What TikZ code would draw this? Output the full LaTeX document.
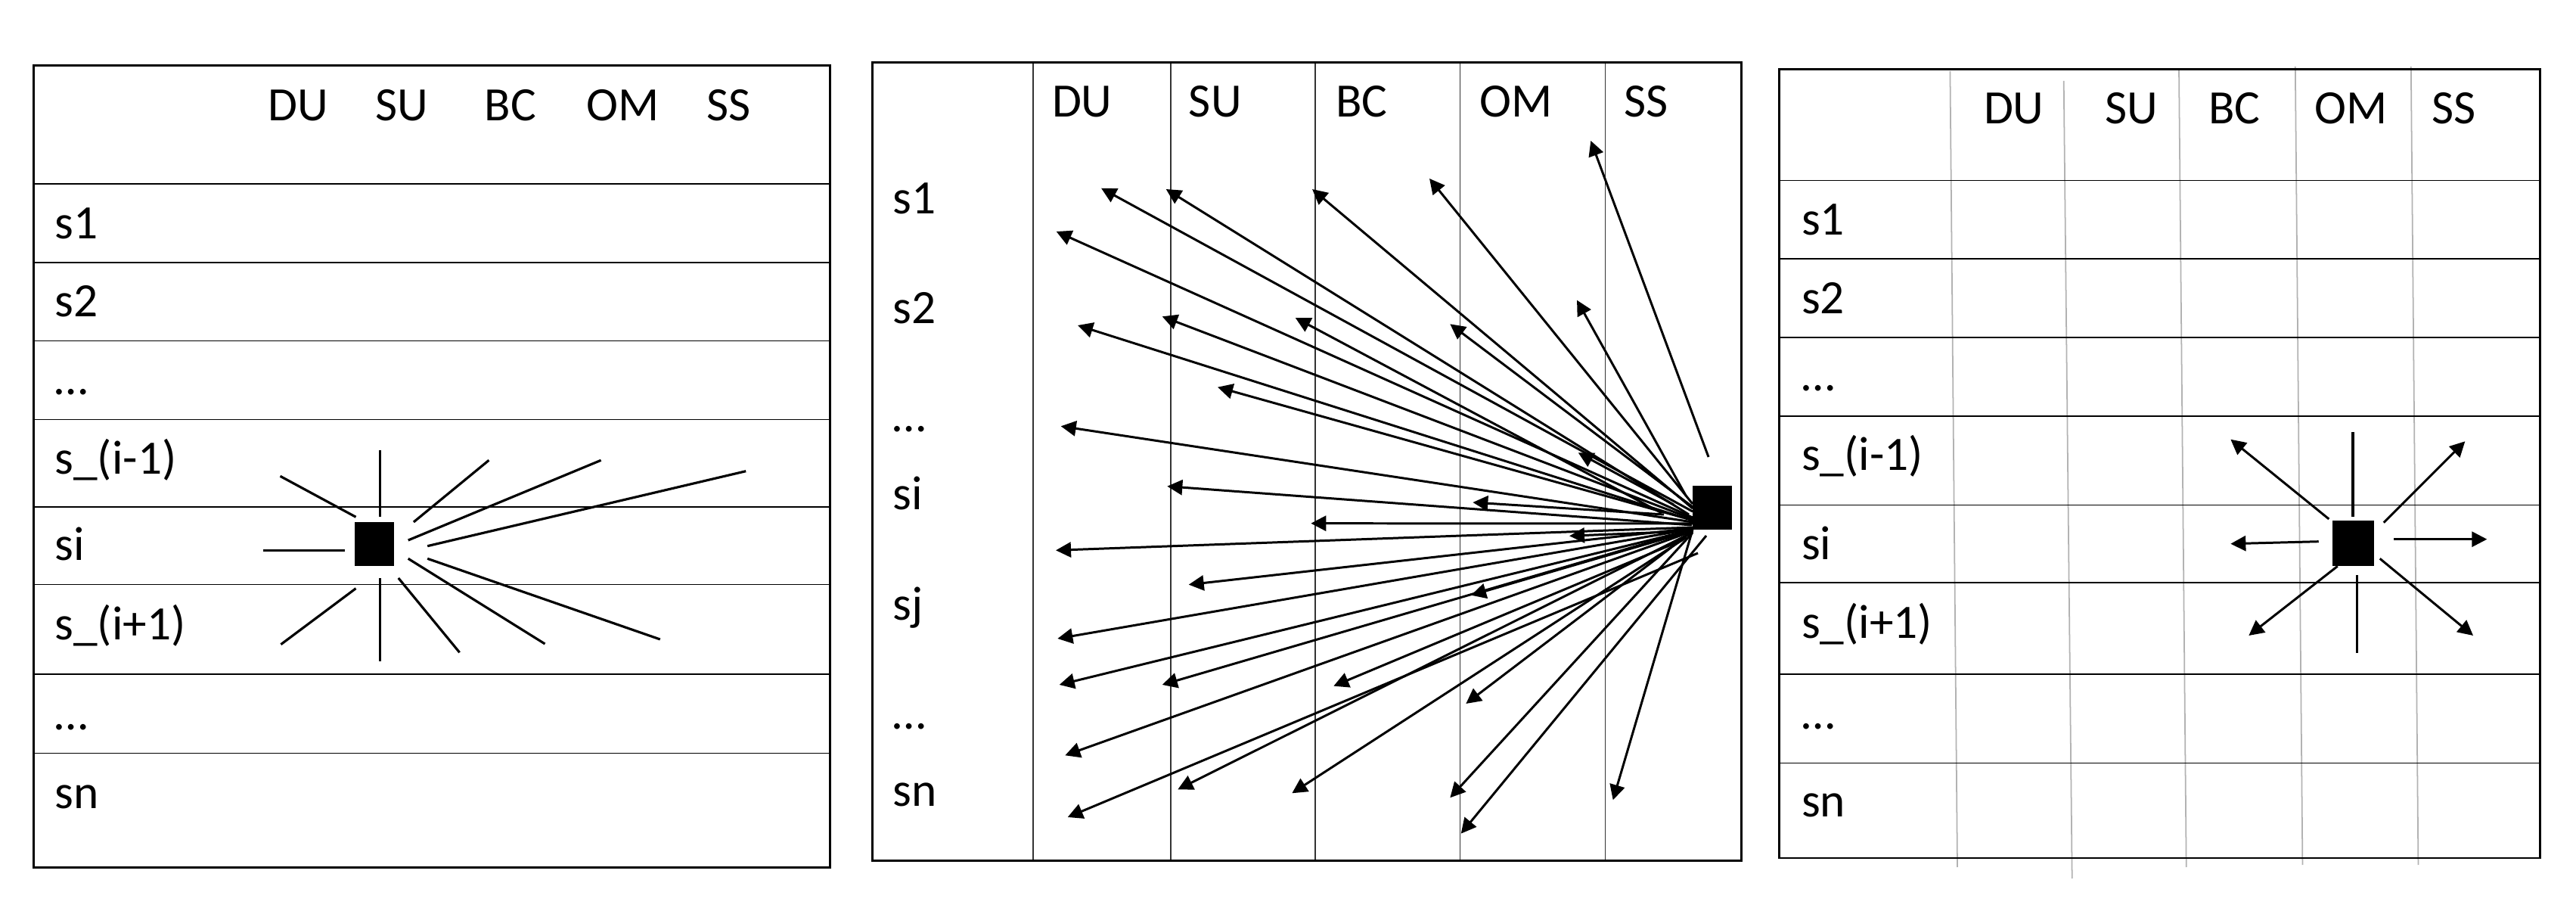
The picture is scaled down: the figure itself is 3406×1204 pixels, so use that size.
\documentclass[tikz,border=0pt]{standalone}
\usepackage{fontspec}
\setmainfont{Carlito}
\usetikzlibrary{arrows.meta}
\begin{document}
\begin{tikzpicture}[x=0.01cm,y=-0.01cm,
  lab/.style={font=\fontsize{18}{20}\selectfont, inner sep=0pt},
  border/.style={line width=0.85pt},
  grid/.style={line width=0.5pt},
  vgrid/.style={line width=0.45pt, black!80},
  lgrid/.style={line width=0.5pt, black!30},
  spoke/.style={line width=0.9pt},
  arr/.style={line width=0.85pt, -{Triangle[length=0.2cm,width=0.2cm]}},
  sq/.style={fill=black, inner sep=0pt, draw=none}]
\useasboundingbox (0,0) rectangle (3406,1204);

% ---------------- Panel 1 ----------------
\foreach \y in {242.9,347,450.4,554.6,669.7,772.4,891.2,995.4}
  \draw[grid] (44.7,\y) -- (1097,\y);
\draw[border] (44.7,86.7) rectangle (1097,1146.4);
\foreach \t/\x in {DU/394,SU/531,BC/675,OM/824,SS/964}
  \node[lab,anchor=base] (pa-\t) at (\x,160) {\t};
\node[lab,anchor=base west] (pa-r1) at (72,315.5) {s1};
\node[lab,anchor=base west] (pa-r2) at (72,419) {s2};
\node[lab,anchor=base west] (pa-r3) at (72,521.6) {…};
\node[lab,anchor=base west] (pa-r4) at (72,627) {s\_(i-1)};
\node[lab,anchor=base west] (pa-r5) at (72,741) {si};
\node[lab,anchor=base west] (pa-r6) at (72,845.7) {s\_(i+1)};
\node[lab,anchor=base west] (pa-r7) at (72,964.6) {…};
\node[lab,anchor=base west] (pa-r8) at (72,1068) {sn};
\node[sq, minimum width=0.515cm, minimum height=0.577cm] (sqa) at (494.75,718.85) {};
\foreach \ax/\ay/\bx/\by in {
  348.2/727.7/456.3/727.7,
  370.5/629.3/470.5/683.3,
  502.7/595/502.7/683.3,
  546.9/690/646.4/608.3,
  539.7/714/794.6/608.3,
  565.2/721.7/986.2/622.7,
  565.2/738.3/872.8/845,
  539.7/738.3/720.5/851,
  526.8/764/607.6/862.3,
  502.7/764.3/502.7/874,
  470.5/777.7/371.4/851.7}
  \draw[spoke] (\ax,\ay) -- (\bx,\by);

% ---------------- Panel 2 ----------------
\foreach \x in {1365.7,1547.9,1739.2,1930.5,2122.6}
  \draw[vgrid] (\x,83) -- (\x,1137.6);
\draw[border] (1153,83) rectangle (2302.4,1137.6);
\foreach \t/\x in {DU/1430.8,SU/1606.8,BC/1800.4,OM/2004.7,SS/2177}
  \node[lab,anchor=base] (pb-\t) at (\x,155) {\t};
\node[lab,anchor=base west] (pb-r1) at (1179.7,283) {s1};
\node[lab,anchor=base west] (pb-r2) at (1179.7,427.7) {s2};
\node[lab,anchor=base west] (pb-r3) at (1179.7,570.7) {…};
\node[lab,anchor=base west] (pb-r4) at (1179.7,673.4) {si};
\node[lab,anchor=base west] (pb-r5) at (1179.7,820) {sj};
\node[lab,anchor=base west] (pb-r6) at (1179.7,963) {…};
\node[lab,anchor=base west] (pb-r7) at (1179.7,1065.7) {sn};
\node[sq, minimum width=0.52cm, minimum height=0.58cm] (sqb) at (2264,671) {};
\foreach \tx/\ty/\hx/\hy in {
  2259/604/2103.3/186,
  2238/666/1890/236,
  2238/672/1735/250,
  2233/680/1541.7/250,
  2238/676/1456/248.7,
  2238/684/1396.7/306,
  2229/655/2085/396.7,
  2238/670/1917.3/428.3,
  2197/678/1712.7/420,
  2238/686/1536.7/418.3,
  2238/688/1425/430,
  2225/684/1610/511.7,
  2213/667/2086.7/598.3,
  2238/690/1402.7/563.3,
  2237/694/1543.3/642.7,
  2200/680/1947.3/664,
  2238/692/1733.3/691.7,
  2238/697/1396/727.3,
  2232/702/2075/708.3,
  2238/698/1571.7/772.7,
  2225/705/1945/786.7,
  2238/699/1398.3/844,
  2238/700/1400.7/905,
  2238/700/1536.7/905,
  2224/714/1763.3/906.7,
  2238/702/1938.3/930,
  2238/702/1408.3/998.3,
  2235/705/1557.3/1043.3,
  2230/710/1708.3/1048.3,
  2238/704/1917.3/1054.3,
  2256/708/1931.7/1101.7,
  2238/700/2132.7/1057.3,
  2245/731/1411.7/1080}
  \draw[arr] (\tx,\ty) -- (\hx,\hy);

% ---------------- Panel 3 ----------------
\draw[lgrid] (2578.4,94) -- (2588,1146);
\draw[lgrid] (2728.7,107) -- (2739.7,1161);
\draw[lgrid] (2881,92.5) -- (2890.7,1146);
\draw[lgrid] (3034.8,88) -- (3044.4,1143);
\draw[lgrid] (3187.8,88) -- (3197.4,1143);
\foreach \y in {238.5,341.9,446,550.2,667.5,770.2,891.2,1008.6}
  \draw[grid] (2352.6,\y) -- (3358,\y);
\draw[border] (2352.6,91.8) rectangle (3358,1134);
\foreach \t/\x in {DU/2662.8,SU/2818.6,BC/2954.5,OM/3108.9,SS/3244.8}
  \node[lab,anchor=base] (pc-\t) at (\x,163.7) {\t};
\node[lab,anchor=base west] (pc-r1) at (2381.5,310.4) {s1};
\node[lab,anchor=base west] (pc-r2) at (2381.5,414.5) {s2};
\node[lab,anchor=base west] (pc-r3) at (2381.5,517) {…};
\node[lab,anchor=base west] (pc-r4) at (2381.5,622) {s\_(i-1)};
\node[lab,anchor=base west] (pc-r5) at (2381.5,739.4) {si};
\node[lab,anchor=base west] (pc-r6) at (2381.5,843.5) {s\_(i+1)};
\node[lab,anchor=base west] (pc-r7) at (2381.5,963) {…};
\node[lab,anchor=base west] (pc-r8) at (2381.5,1080) {sn};
\node[sq, minimum width=0.544cm, minimum height=0.597cm] (sqc) at (3111.5,717.85) {};
\draw[spoke] (3111,571) -- (3111,682.7);
\draw[spoke] (3116.7,760) -- (3116.7,862.7);
\foreach \tx/\ty/\hx/\hy in {
  3079.3/686/2949.3/580.7,
  3151.7/690.7/3259.3/583.3,
  3065.7/715.7/2949.3/718.7,
  3165/712.7/3288.3/712.7,
  3090.7/748.3/2973.3/840,
  3146.7/738.3/3270/840}
  \draw[arr] (\tx,\ty) -- (\hx,\hy);
\end{tikzpicture}
\end{document}
